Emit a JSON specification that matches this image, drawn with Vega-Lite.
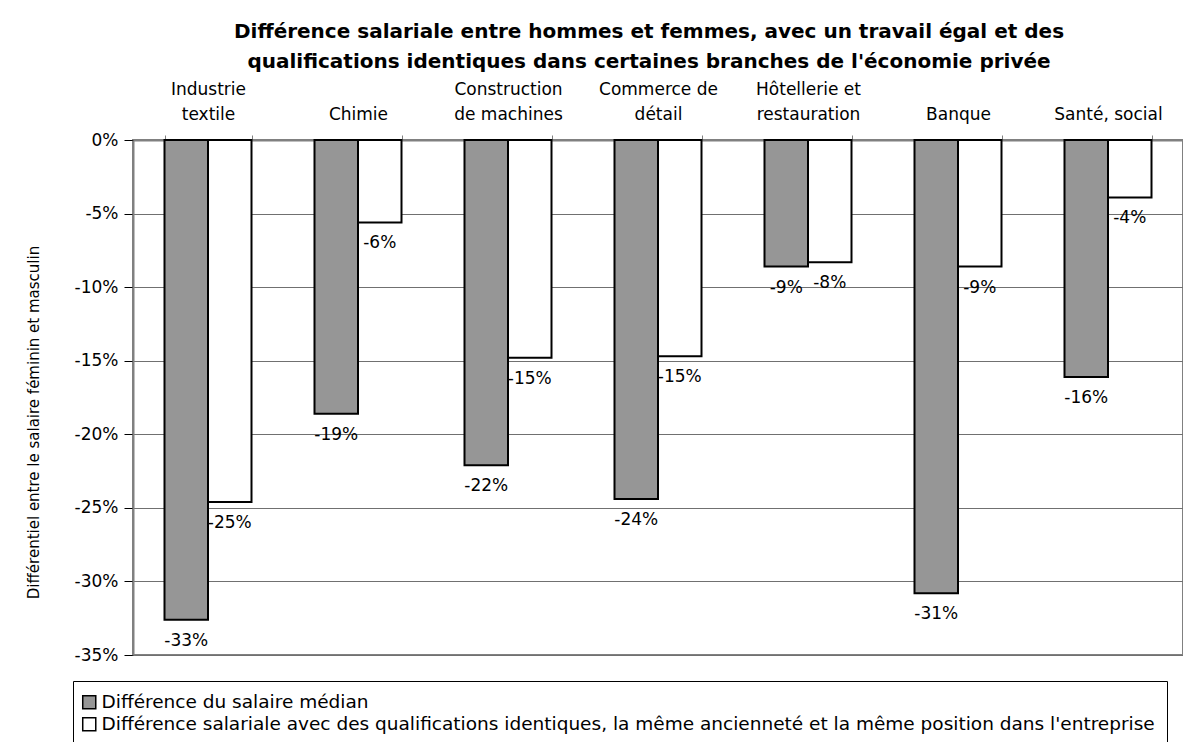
{
  "$schema": "https://vega.github.io/schema/vega-lite/v6.json",
  "autosize": {"type": "none"},
  "padding": {"left": 133, "top": 140, "right": 0, "bottom": 87},
  "width": 1050,
  "height": 515,
  "background": "white",
  "title": {
    "text": ["Différence salariale entre hommes et femmes, avec un travail égal et des", "qualifications identiques dans certaines branches de l'économie privée"],
    "font": "DejaVu Sans",
    "fontSize": 20,
    "fontWeight": "bold",
    "color": "black",
    "anchor": "middle",
    "frame": "group",
    "lineHeight": 30,
    "offset": 8,
    "dx": -9
  },
  "data": {
    "values": [
      {"branche": "Industrie|textile", "serie": "Différence du salaire médian", "valeur": -0.326},
      {"branche": "Industrie|textile", "serie": "Différence salariale avec des qualifications identiques, la même ancienneté et la même position dans l'entreprise", "valeur": -0.246},
      {"branche": "|Chimie", "serie": "Différence du salaire médian", "valeur": -0.186},
      {"branche": "|Chimie", "serie": "Différence salariale avec des qualifications identiques, la même ancienneté et la même position dans l'entreprise", "valeur": -0.056},
      {"branche": "Construction|de machines", "serie": "Différence du salaire médian", "valeur": -0.221},
      {"branche": "Construction|de machines", "serie": "Différence salariale avec des qualifications identiques, la même ancienneté et la même position dans l'entreprise", "valeur": -0.148},
      {"branche": "Commerce de|détail", "serie": "Différence du salaire médian", "valeur": -0.244},
      {"branche": "Commerce de|détail", "serie": "Différence salariale avec des qualifications identiques, la même ancienneté et la même position dans l'entreprise", "valeur": -0.147},
      {"branche": "Hôtellerie et|restauration", "serie": "Différence du salaire médian", "valeur": -0.086},
      {"branche": "Hôtellerie et|restauration", "serie": "Différence salariale avec des qualifications identiques, la même ancienneté et la même position dans l'entreprise", "valeur": -0.083},
      {"branche": "|Banque", "serie": "Différence du salaire médian", "valeur": -0.308},
      {"branche": "|Banque", "serie": "Différence salariale avec des qualifications identiques, la même ancienneté et la même position dans l'entreprise", "valeur": -0.086},
      {"branche": "|Santé, social", "serie": "Différence du salaire médian", "valeur": -0.161},
      {"branche": "|Santé, social", "serie": "Différence salariale avec des qualifications identiques, la même ancienneté et la même position dans l'entreprise", "valeur": -0.039}
    ]
  },
  "encoding": {
    "x": {
      "field": "branche",
      "type": "nominal",
      "sort": null,
      "scale": {"paddingInner": 0.42, "paddingOuter": 0.21},
      "axis": {
        "orient": "top",
        "title": null,
        "labelAngle": 0,
        "labelExpr": "split(datum.label, '|')",
        "labelFont": "DejaVu Sans",
        "labelFontSize": 17,
        "labelColor": "black",
        "labelLineHeight": 25,
        "labelBaseline": "top",
        "labelPadding": 54,
        "labelLimit": 300,
        "tickBand": "extent",
        "tickSize": 5,
        "tickColor": "#808080",
        "domainColor": "#808080",
        "domainWidth": 2,
        "grid": false
      }
    },
    "xOffset": {"field": "serie", "type": "nominal", "sort": null},
    "y": {
      "field": "valeur",
      "type": "quantitative",
      "scale": {"domain": [-0.35, 0], "nice": false},
      "axis": {
        "title": "Différentiel entre le salaire féminin et masculin",
        "titleFont": "DejaVu Sans",
        "titleFontSize": 15,
        "titleFontWeight": "normal",
        "titleColor": "black",
        "titlePadding": 33,
        "titleY": 282,
        "values": [-0.35, -0.3, -0.25, -0.2, -0.15, -0.1, -0.05, 0],
        "format": ".0%",
        "labelFont": "DejaVu Sans",
        "labelFontSize": 17,
        "labelColor": "black",
        "labelPadding": 6,
        "tickSize": 9,
        "tickColor": "black",
        "domainColor": "#808080",
        "domainWidth": 2,
        "grid": true,
        "gridColor": "#707070",
        "gridWidth": 1.2
      }
    }
  },
  "layer": [
    {
      "mark": {"type": "bar", "stroke": "black", "strokeWidth": 2},
      "encoding": {
        "fill": {
          "field": "serie",
          "type": "nominal",
          "sort": null,
          "scale": {"range": ["#969696", "#ffffff"]},
          "legend": {
            "orient": "none",
            "legendX": -60,
            "legendY": 541,
            "direction": "vertical",
            "title": null,
            "strokeColor": "black",
            "padding": 12,
            "symbolType": "square",
            "symbolSize": 170,
            "symbolStrokeColor": "black",
            "symbolStrokeWidth": 1.5,
            "symbolOffset": -5,
            "labelFont": "DejaVu Sans",
            "labelFontSize": 18.5,
            "labelColor": "black",
            "labelLimit": 2000,
            "labelOffset": 3,
            "rowPadding": 2
          }
        }
      }
    },
    {
      "mark": {"type": "text", "baseline": "middle", "align": "center", "dy": 21, "font": "DejaVu Sans", "fontSize": 17, "color": "black"},
      "encoding": {
        "text": {"field": "valeur", "type": "quantitative", "format": ".0%"}
      }
    }
  ],
  "config": {
    "locale": {"number": {"decimal": ".", "thousands": ",", "grouping": [3], "currency": ["", ""], "minus": "-"}},
    "view": {"stroke": "#808080", "strokeWidth": 2}
  }
}
